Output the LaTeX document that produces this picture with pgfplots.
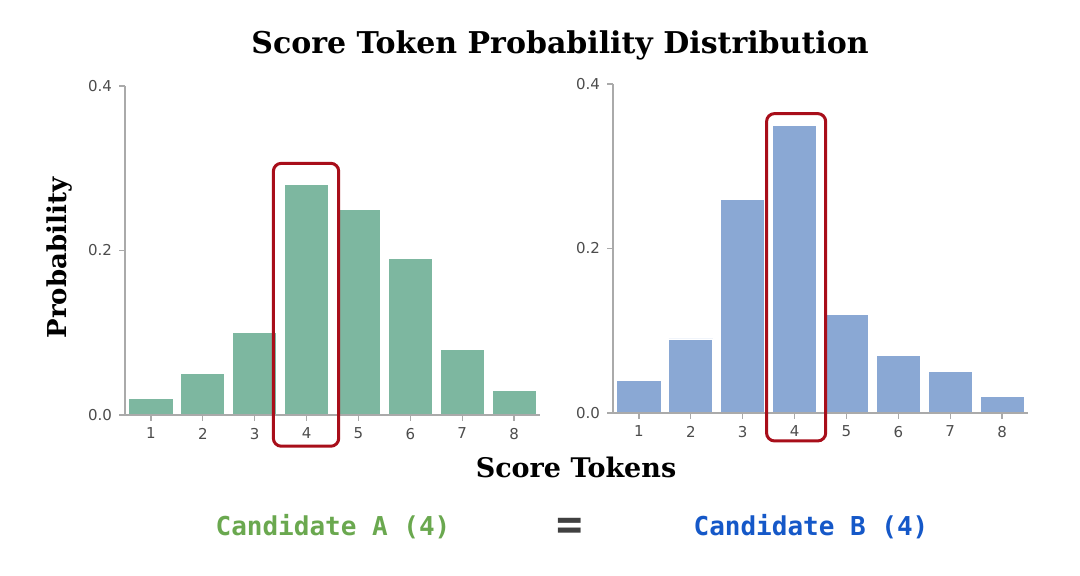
\documentclass[border=0pt]{standalone}
\usepackage{fontspec}
\setmainfont{DejaVu Serif}
\newfontfamily\tickfont{DejaVu Sans}
\newfontfamily\monob{DejaVu Sans Mono}
\usepackage{pgfplots}
\pgfplotsset{compat=1.18}
\definecolor{bargreen}{RGB}{125,183,160}
\definecolor{barblue}{RGB}{138,168,212}
\definecolor{boxred}{RGB}{168,14,26}
\definecolor{txtgreen}{RGB}{106,168,79}
\definecolor{txtblue}{RGB}{21,88,200}
\definecolor{axgray}{RGB}{170,170,170}
\tikzset{redbox/.style={draw=boxred, line width=1.5pt, rounded corners=4pt}}
\pgfplotsset{
  myaxis/.style={
    scale only axis, width=207.5pt, height=164.5pt,
    anchor=south west,
    xmin=0.5, xmax=8.5, ymin=0, ymax=0.4,
    axis x line*=bottom, axis y line*=left,
    axis line style={draw=axgray, line width=0.6pt},
    axis on top,
    xtick={1,2,3,4,5,6,7,8}, ytick={0,0.2,0.4},
    yticklabel style={/pgf/number format/.cd, fixed, fixed zerofill, precision=1},
    /pgf/number format/assume math mode=true,
    tick label style={font=\tickfont\fontsize{7.5}{9}\selectfont, text=black!70},
    tick align=outside, major tick length=3pt,
    tick style={draw=axgray, line width=0.6pt},
    clip=false,
    ybar, bar width=0.85, bar shift=0pt,
  },
}
\begin{document}
\begin{tikzpicture}[x=1pt,y=1pt]
\useasboundingbox (0,0) rectangle (540,288);
\begin{axis}[myaxis, at={(62.5pt,80.5pt)}]
\addplot[fill=bargreen, draw=white, line width=0.4pt] coordinates {
(1,0.02) (2,0.05) (3,0.10) (4,0.28) (5,0.25) (6,0.19) (7,0.08) (8,0.03)};
\coordinate (A1) at (axis cs:3.36,-0.038);
\coordinate (A2) at (axis cs:4.62,0.306);
\end{axis}
\draw[redbox] (A1) rectangle (A2);
\begin{axis}[myaxis, at={(306.5pt,81.5pt)}]
\addplot[fill=barblue, draw=white, line width=0.4pt] coordinates {
(1,0.04) (2,0.09) (3,0.26) (4,0.35) (5,0.12) (6,0.07) (7,0.05) (8,0.02)};
\coordinate (B1) at (axis cs:3.46,-0.034);
\coordinate (B2) at (axis cs:4.60,0.364);
\end{axis}
\draw[redbox] (B1) rectangle (B2);
\node[font=\bfseries\fontsize{15}{18}\selectfont] at (280,265.5) {Score Token Probability Distribution};
\node[font=\bfseries\fontsize{13.5}{16}\selectfont] at (288,54.5) {Score Tokens};
\node[font=\bfseries\fontsize{13}{16}\selectfont, rotate=90] at (30,159) {Probability};
\node[font=\monob\bfseries\fontsize{13}{15}\selectfont, text=txtgreen] at (166.5,24.5) {Candidate A (4)};
\node[font=\monob\bfseries\fontsize{22}{24}\selectfont, text=black!75] at (285,23.5) {=};
\node[font=\monob\bfseries\fontsize{13}{15}\selectfont, text=txtblue] at (405.5,24.5) {Candidate B (4)};
\end{tikzpicture}
\end{document}
